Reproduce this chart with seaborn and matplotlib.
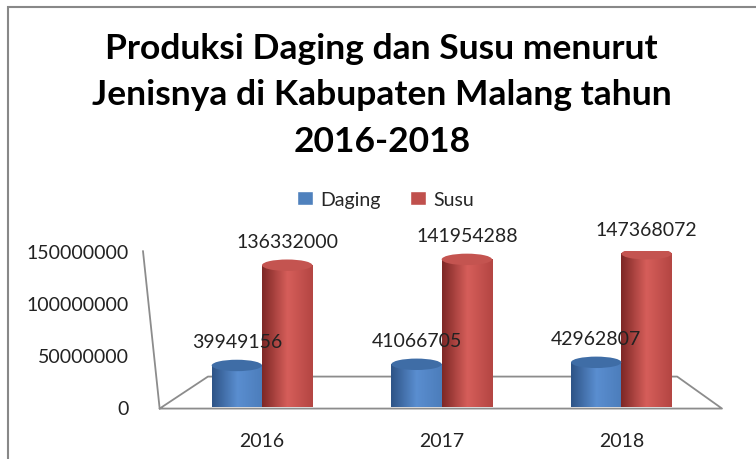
import numpy as np
import pandas as pd
import matplotlib
matplotlib.use("Agg")
import matplotlib.pyplot as plt
import seaborn as sns
from matplotlib.patches import Rectangle, Ellipse
from matplotlib.lines import Line2D
from matplotlib.colors import LinearSegmentedColormap

tahun = ["2016", "2017", "2018"]
daging = [39949156, 41066705, 42962807]
susu = [136332000, 141954288, 147368072]
jenis = ["Daging", "Susu"]
warna = ["#4F81BD", "#C0504D"]
yticks = [0, 50000000, 100000000, 150000000]

df = pd.DataFrame({
    "Tahun": tahun * 2,
    "Produksi": daging + susu,
    "Jenis": [jenis[0]] * 3 + [jenis[1]] * 3,
})

sns.set_style("white")
plt.rcParams["font.family"] = ["Lato", "DejaVu Sans"]

fig = plt.figure(figsize=(7.56, 4.6), dpi=100)
ax = fig.add_axes([147 / 756, 52 / 460, 575 / 756, 156 / 460])

sns.barplot(data=df, x="Tahun", y="Produksi", hue="Jenis", palette=warna,
            width=0.56, dodge=True, ax=ax, legend=False, saturation=1)

xl = (-0.64, 2.56)
ax.set_yticks(yticks)
ax.set_yticklabels([str(v) for v in yticks], fontsize=14, color="#222222")
ax.tick_params(axis="y", length=5, width=1, color="#888888", pad=8)
ax.tick_params(axis="x", length=0, pad=18, labelsize=14, labelcolor="#222222")
ax.set_xlabel("")
ax.set_ylabel("")
for s in ax.spines.values():
    s.set_visible(False)

# cylinder shading
cmaps = {
    warna[0]: LinearSegmentedColormap.from_list("b", ["#2E5487", "#5A8ED0", "#4C7DBB"]),
    warna[1]: LinearSegmentedColormap.from_list("r", ["#7E2826", "#D65E5A", "#B44643"]),
}
tops = {warna[0]: "#3F6DA6", warna[1]: "#C45450"}
grad = np.linspace(0, 1, 64).reshape(1, -1)
for bar in ax.patches:
    fc = matplotlib.colors.to_hex(bar.get_facecolor())
    key = warna[0] if fc.lower() == warna[0].lower() else warna[1]
    x, w, h = bar.get_x(), bar.get_width(), bar.get_height()
    ax.imshow(grad, extent=[x, x + w, 0, h], aspect="auto", cmap=cmaps[key], zorder=3)
    ax.add_patch(Ellipse((x + w / 2, h), w, 11000000, facecolor=tops[key],
                         edgecolor="none", zorder=4))
    ax.text(x + w / 2, h + 15000000, f"{int(h)}", ha="center", va="bottom",
            fontsize=14, color="#222222", zorder=5, clip_on=False)
ax.set_xlim(*xl)
ax.set_ylim(0, 150000000)

# 3D floor and back wall outline
grey = "#8C8C8C"
floor_x = [0.022, 0.106, 0.922, 1.0, 0.022]
floor_y = [-0.01, 0.195, 0.195, -0.01, -0.01]
ax.add_line(Line2D(floor_x, floor_y, transform=ax.transAxes, color=grey,
                   lw=1.3, clip_on=False, zorder=1))
ax.add_line(Line2D([0.022, -0.007], [-0.01, 1.0], transform=ax.transAxes,
                   color=grey, lw=1.3, clip_on=False, zorder=1))

# title
fig.text(0.505, 0.793, "Produksi Daging dan Susu menurut\nJenisnya di Kabupaten Malang tahun\n2016-2018",
         ha="center", va="center", fontsize=25.5, fontweight="bold",
         linespacing=1.55, color="#000000")

# legend
handles = [Rectangle((0, 0), 1, 1, facecolor=c) for c in warna]
fig.legend(handles, jenis, loc="center", bbox_to_anchor=(0.51, 0.565), ncol=2,
           frameon=False, fontsize=14, handlelength=0.8, handleheight=0.8,
           handletextpad=0.4, columnspacing=1.5)

# outer frame
fig.patches.append(Rectangle((8 / 756, -0.2), 1.2, 452 / 460 + 0.2,
                             transform=fig.transFigure, fill=False,
                             edgecolor="#888888", lw=1.5))

fig.savefig("out.png", dpi=100)
